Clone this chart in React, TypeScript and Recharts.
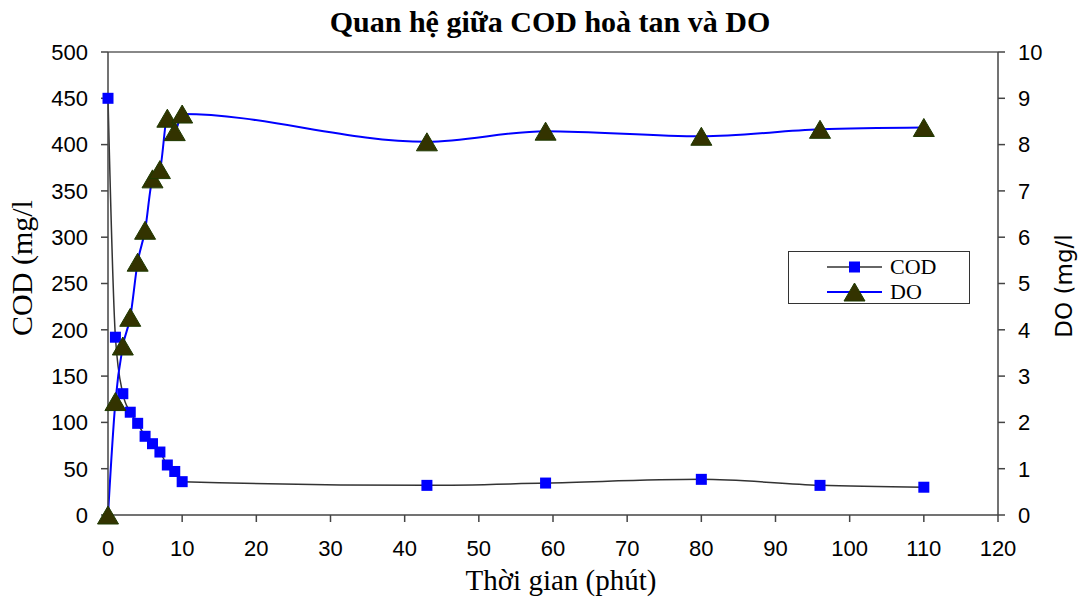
import React from 'react';
import { LineChart, Line, XAxis, YAxis, Legend, ReferenceLine } from 'recharts';

// sampling times (minutes)
const time = [0, 1, 2, 3, 4, 5, 6, 7, 8, 9, 10, 43, 59, 80, 96, 110];
// dissolved COD, mg/l
const cod = [450, 192, 131, 111, 99, 85, 77, 68, 54, 47, 36, 32, 34.5, 38.5, 32, 30];
// dissolved oxygen, mg/l
const dissolvedOxygen = [0, 2.45, 3.65, 4.27, 5.46, 6.15, 7.26, 7.46, 8.57, 8.28, 8.66, 8.06, 8.29, 8.18, 8.33, 8.37];

const xTicks = [0, 10, 20, 30, 40, 50, 60, 70, 80, 90, 100, 110, 120];
const codTicks = [0, 50, 100, 150, 200, 250, 300, 350, 400, 450, 500];
const doTicks = [0, 1, 2, 3, 4, 5, 6, 7, 8, 9, 10];

const data = time.map((t, i) => ({ t, cod: cod[i], do: dissolvedOxygen[i] }));

const SANS = '"Liberation Sans", Arial, sans-serif';
const SERIF = '"Liberation Serif", "Times New Roman", serif';
const AXIS = '#444';
const tickStyle = { fill: '#000', fontSize: 22, fontFamily: SANS };

const SquareDot = (props: any) => {
  const { cx, cy, index } = props;
  if (cx == null || cy == null) return <g key={`s${index}`} />;
  return <rect key={`s${index}`} x={cx - 5.5} y={cy - 5.5} width={11} height={11} fill="#0000FF" />;
};

const TriangleDot = (props: any) => {
  const { cx, cy, index } = props;
  if (cx == null || cy == null) return <g key={`t${index}`} />;
  const pts = `${cx},${cy - 9} ${cx - 10.5},${cy + 9} ${cx + 10.5},${cy + 9}`;
  return <polygon key={`t${index}`} points={pts} fill="#333300" stroke="#1e3a00" strokeWidth={1} />;
};

const LegendBox = () => (
  <div style={{ width: 182, height: 53, border: '1px solid #333', background: '#fff', boxSizing: 'border-box' }}>
    <svg width={180} height={51} style={{ display: 'block' }}>
      <line x1={38} x2={93} y1={15} y2={15} stroke="#333" strokeWidth={1.5} />
      <rect x={60} y={9.5} width={11} height={11} fill="#0000FF" />
      <text x={101} y={22} fontFamily={SERIF} fontSize={22} fill="#000">COD</text>
      <line x1={38} x2={93} y1={40} y2={40} stroke="#0000FF" strokeWidth={2} />
      <polygon points="65.5,31 55,49 76,49" fill="#333300" stroke="#1e3a00" strokeWidth={1} />
      <text x={101} y={47} fontFamily={SERIF} fontSize={22} fill="#000">DO</text>
    </svg>
  </div>
);

export default function App() {
  return (
    <div style={{ position: 'absolute', left: 0, top: 0, width: 1079, height: 601, background: '#fff' }}>
      <LineChart width={1079} height={601} data={data} margin={{ top: 52, right: 6, bottom: 26, left: 8 }}>
        <XAxis
          dataKey="t"
          type="number"
          domain={[0, 120]}
          ticks={xTicks}
          height={60}
          stroke={AXIS}
          strokeWidth={1.5}
          tickSize={7}
          tickMargin={18}
          tick={tickStyle}
        />
        <YAxis
          yAxisId="left"
          domain={[0, 500]}
          ticks={codTicks}
          width={100}
          stroke={AXIS}
          strokeWidth={1.5}
          tickSize={7}
          tickMargin={13}
          tick={tickStyle}
        />
        <YAxis
          yAxisId="right"
          orientation="right"
          domain={[0, 10]}
          ticks={doTicks}
          width={75}
          stroke={AXIS}
          strokeWidth={1.5}
          tickSize={7}
          tickMargin={13}
          tick={tickStyle}
        />
        <ReferenceLine yAxisId="left" y={500} stroke="#888" strokeWidth={2} />
        <Legend
          layout="horizontal"
          verticalAlign="middle"
          align="center"
          content={<LegendBox />}
          wrapperStyle={{ position: 'absolute', left: 788, top: 251, width: 182, height: 53 }}
        />
        <Line
          yAxisId="left"
          dataKey="cod"
          name="COD"
          type="monotone"
          stroke="#333"
          strokeWidth={1.5}
          dot={SquareDot}
          activeDot={false}
          isAnimationActive={false}
        />
        <Line
          yAxisId="right"
          dataKey="do"
          name="DO"
          type="monotone"
          stroke="#0000FF"
          strokeWidth={2}
          dot={TriangleDot}
          activeDot={false}
          isAnimationActive={false}
        />
      </LineChart>
      <svg width={1079} height={601} style={{ position: 'absolute', left: 0, top: 0, pointerEvents: 'none' }}>
        <text x={550} y={32} textAnchor="middle" fontFamily={SERIF} fontWeight="bold" fontSize={30} fill="#000">
          Quan hệ giữa COD hoà tan và DO
        </text>
        <text transform="translate(32,268) rotate(-90)" textAnchor="middle" fontFamily={SERIF} fontSize={30} fill="#000">
          COD (mg/l
        </text>
        <text transform="translate(1072,286) rotate(-90)" textAnchor="middle" fontFamily={'"DejaVu Sans", Verdana, sans-serif'} fontSize={23} fill="#000">
          DO (mg/l
        </text>
        <text x={561} y={590} textAnchor="middle" fontFamily={SERIF} fontSize={29} fill="#000">
          Thời gian (phút)
        </text>
      </svg>
    </div>
  );
}
